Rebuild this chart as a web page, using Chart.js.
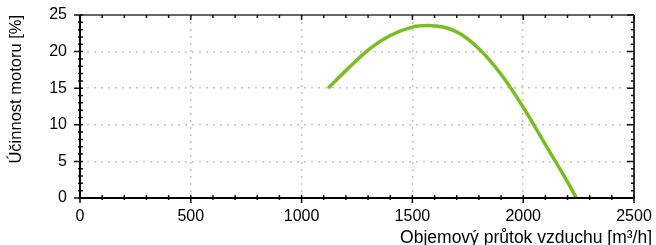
<!DOCTYPE html>
<html>
<head>
<meta charset="utf-8">
<script src="https://cdn.jsdelivr.net/npm/chart.js@4"></script>
<style>
  html, body { margin: 0; padding: 0; background: #fff; }
  canvas { display: block; }
</style>
</head>
<body>
<canvas id="chart" width="656" height="245"></canvas>
<script>
// airflow [m3/h] and motor efficiency [%]
const airflow = [1120, 1200, 1300, 1400, 1500, 1570, 1700, 1800, 1900, 2000, 2100, 2200, 2240];
const efficiency = [15.0, 17.4, 20.2, 22.2, 23.35, 23.55, 22.7, 20.4, 16.9, 12.4, 7.3, 2.2, 0];

const xTitle = 'Objemový průtok vzduchu [m³/h]';
const yTitle = 'Účinnost motoru [%]';

const fontFamily = "'Liberation Sans', Arial, sans-serif";
const gridColor = '#c4c4c4';

// frame, minor ticks and x title
const frameTicks = {
    id: 'frameTicks',
    afterDraw(chart) {
        const ctx = chart.ctx;
        const {left, right, top, bottom} = chart.chartArea;
        const x = chart.scales.x;
        const y = chart.scales.y;
        ctx.save();
        ctx.lineCap = 'butt';

        // top / right border
        ctx.strokeStyle = '#333';
        ctx.lineWidth = 1.5;
        ctx.beginPath();
        ctx.moveTo(left, top);
        ctx.lineTo(right, top);
        ctx.stroke();
        ctx.lineWidth = 2;
        ctx.beginPath();
        ctx.moveTo(right, top);
        ctx.lineTo(right, bottom);
        ctx.stroke();

        // ticks
        ctx.strokeStyle = '#111';
        ctx.lineWidth = 1.5;
        for (let v = 0; v <= 2500; v += 100) {
            const px = x.getPixelForValue(v);
            const major = v % 500 === 0;
            ctx.beginPath();
            if (major) {
                ctx.moveTo(px, bottom - 3);
                ctx.lineTo(px, bottom + 5);
            } else {
                ctx.moveTo(px, bottom - 3);
                ctx.lineTo(px, bottom + 2);
            }
            ctx.moveTo(px, top);
            ctx.lineTo(px, top + (major ? 5 : 3));
            ctx.stroke();
        }
        for (let v = 0; v <= 25; v += 1) {
            const py = y.getPixelForValue(v);
            const major = v % 5 === 0;
            ctx.beginPath();
            if (major) {
                ctx.moveTo(left - 6, py);
                ctx.lineTo(left + 3, py);
            } else {
                ctx.moveTo(left - 2, py);
                ctx.lineTo(left + 3, py);
            }
            ctx.moveTo(right, py);
            ctx.lineTo(right - (major ? 7 : 3), py);
            ctx.stroke();
        }

        // bottom / left axis
        ctx.strokeStyle = '#000';
        ctx.lineWidth = 2;
        ctx.beginPath();
        ctx.moveTo(left, top);
        ctx.lineTo(left, bottom);
        ctx.lineTo(right + 1, bottom);
        ctx.stroke();

        // x axis title
        ctx.fillStyle = '#000';
        ctx.font = '17.5px ' + fontFamily;
        ctx.textAlign = 'right';
        ctx.textBaseline = 'alphabetic';
        ctx.fillText(xTitle, 652, 243);
        ctx.restore();
    }
};

new Chart(document.getElementById('chart'), {
    type: 'line',
    data: {
        datasets: [{
            label: yTitle,
            data: airflow.map((a, i) => ({x: a, y: efficiency[i]})),
            borderColor: '#78be20',
            borderWidth: 3.5,
            pointRadius: 0,
            fill: false,
            cubicInterpolationMode: 'monotone'
        }]
    },
    options: {
        responsive: false,
        animation: false,
        devicePixelRatio: 1,
        layout: {
            padding: {left: 0, right: 22, top: 15, bottom: 0}
        },
        plugins: {
            legend: {display: false},
            tooltip: {enabled: false}
        },
        scales: {
            x: {
                type: 'linear',
                min: 0,
                max: 2500,
                afterFit: (scale) => {
                    scale.height = 47;
                    scale.paddingLeft = 0;
                    scale.paddingRight = 0;
                },
                ticks: {
                    stepSize: 500,
                    padding: 9,
                    color: '#000',
                    maxRotation: 0,
                    callback: (v) => String(v),
                    font: {family: fontFamily, size: 16}
                },
                grid: {
                    drawTicks: false,
                    lineWidth: 1.5,
                    color: (c) => (c.tick && (c.tick.value === 0 || c.tick.value === 2500)) ? 'rgba(0,0,0,0)' : gridColor
                },
                border: {display: false, dash: [2, 5]}
            },
            y: {
                type: 'linear',
                min: 0,
                max: 25,
                afterFit: (scale) => {
                    scale.width = 80;
                    scale.paddingTop = 0;
                    scale.paddingBottom = 0;
                },
                title: {
                    display: true,
                    text: yTitle,
                    align: 'end',
                    color: '#000',
                    padding: {top: 7, bottom: 0},
                    font: {family: fontFamily, size: 16.5}
                },
                ticks: {
                    stepSize: 5,
                    padding: 13,
                    color: '#000',
                    callback: (v) => String(v),
                    font: {family: fontFamily, size: 16}
                },
                grid: {
                    drawTicks: false,
                    lineWidth: 1.5,
                    color: (c) => (c.tick && (c.tick.value === 0 || c.tick.value === 25)) ? 'rgba(0,0,0,0)' : gridColor
                },
                border: {display: false, dash: [2, 5]}
            }
        }
    },
    plugins: [frameTicks]
});
</script>
</body>
</html>
